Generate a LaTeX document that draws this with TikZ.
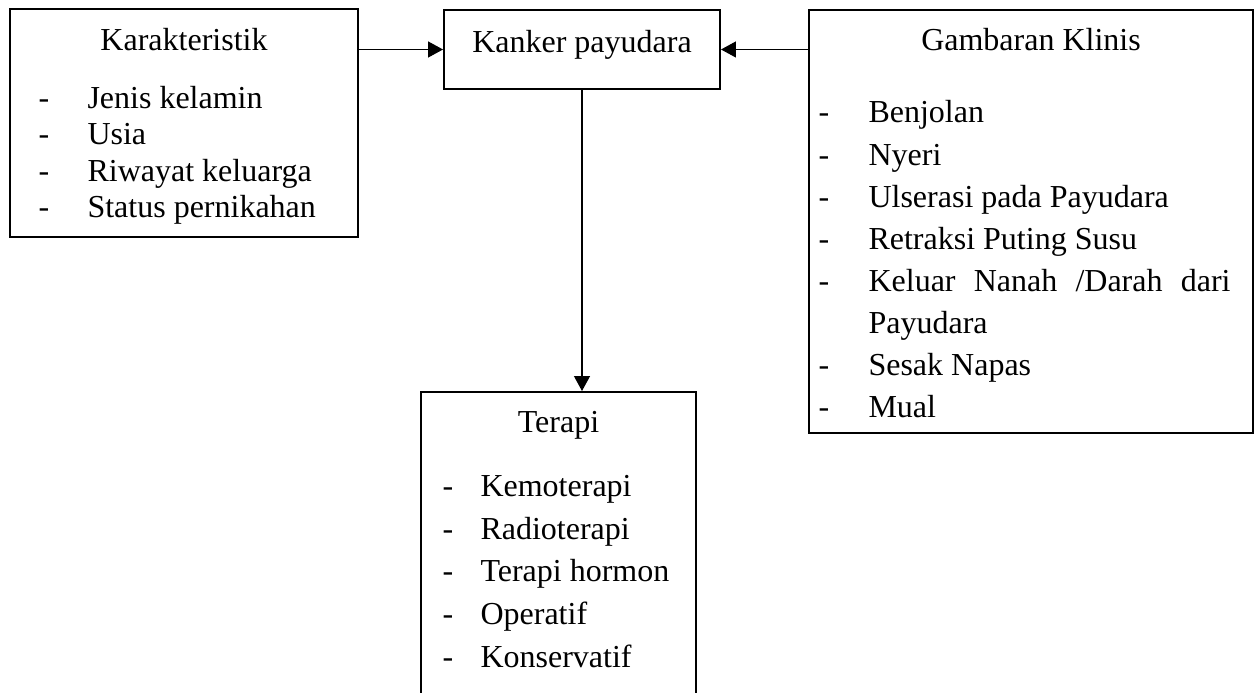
\documentclass[tikz,border=0pt]{standalone}
\usepackage{fontspec}
\setmainfont{Liberation Serif}
\usetikzlibrary{arrows.meta,fit}
\begin{document}
\begin{tikzpicture}[x=0.375pt,y=-0.375pt,
  box/.style={draw, line width=0.75pt, inner sep=0pt},
  txt/.style={anchor=base west, inner sep=0pt, font=\fontsize{12}{14}\selectfont},
  ttl/.style={anchor=base, inner sep=0pt, font=\fontsize{12}{14}\selectfont},
  conn/.style={line width=0.4pt, -{Triangle[length=5.6pt,width=6pt]}}]
\useasboundingbox (0,0) rectangle (1259,693);
\clip (0,0) rectangle (1259,693);
% boxes
\node[box, fit={(10,9) (358,237)}] (kar) {};
\node[box, fit={(444,10) (720,89)}] (kan) {};
\node[box, fit={(809,10) (1253,433)}] (gam) {};
\node[box, fit={(421,392) (696,760)}] (ter) {};
% titles
\node[ttl] (kart) at (184,51) {Karakteristik};
\node[ttl] (kant) at (582,53) {Kanker payudara};
\node[ttl] (gamt) at (1031,51) {Gambaran Klinis};
\node[ttl] (tert) at (558.5,433) {Terapi};
% Karakteristik items
\foreach \y/\t [count=\i] in {108.5/Jenis kelamin, 144.8/Usia, 181.1/Riwayat keluarga, 217.4/Status pernikahan}{
  \node[txt] (kard\i) at (38,\y) {-};
  \node[txt] (kari\i) at (87,\y) {\t};
}
% Gambaran items
\foreach \y/\t [count=\i] in {123/Benjolan, 165.1/Nyeri, 207.3/Ulserasi pada Payudara, 249.4/Retraksi Puting Susu, 291.6/\makebox[135.75pt][s]{Keluar Nanah /Darah dari}, 375.9/Sesak Napas, 418/Mual}{
  \node[txt] (gamd\i) at (818,\y) {-};
  \node[txt] (gami\i) at (868,\y) {\t};
}
\node[txt] (gamp) at (868,333.7) {Payudara};
% Terapi items
\foreach \y/\t [count=\i] in {497/Kemoterapi, 539.5/Radioterapi, 582/Terapi hormon, 624.5/Operatif, 667/Konservatif}{
  \node[txt] (terd\i) at (442,\y) {-};
  \node[txt] (teri\i) at (480,\y) {\t};
}
% connectors
\draw[conn] (kar.east |- kan.west) -- (kan.west);
\draw[conn] (gam.west |- kan.east) -- (kan.east);
\draw[conn] (kan.south) -- (kan.south |- ter.north);
\end{tikzpicture}
\end{document}
